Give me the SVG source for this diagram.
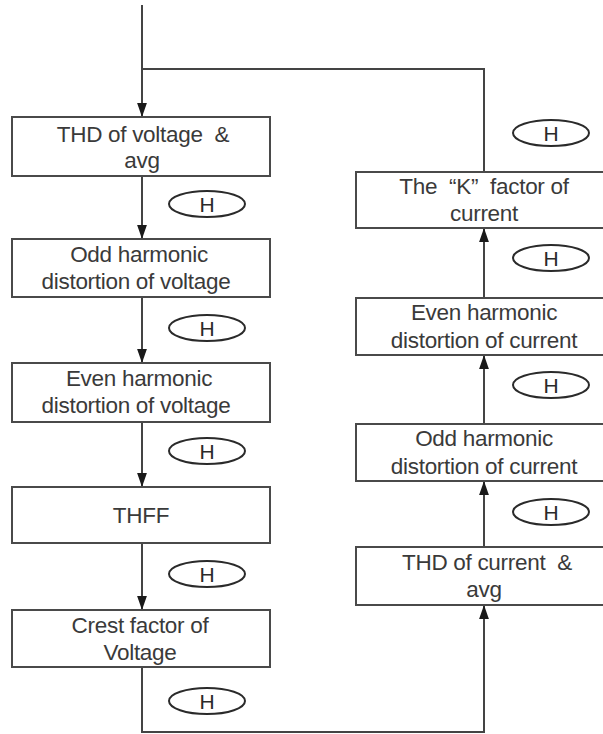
<svg xmlns="http://www.w3.org/2000/svg" width="603" height="734" viewBox="0 0 603 734">
<style>
.box{fill:#fff;stroke:#4a4a4a;stroke-width:2}
.t{font-family:"Liberation Sans",Arial,sans-serif;font-size:22.5px;fill:#3a3a3a;text-anchor:middle;letter-spacing:-0.3px}
.h{font-family:"Liberation Sans",Arial,sans-serif;font-size:21px;fill:#2a2a2a;text-anchor:middle}
.el{fill:#fff;stroke:#2a2a2a;stroke-width:2}
.c{fill:none;stroke:#444;stroke-width:2}
</style>
<defs>
<marker id="arr" markerUnits="userSpaceOnUse" markerWidth="14" markerHeight="20" refX="20" refY="7" orient="auto" viewBox="0 0 20 14">
<path d="M0,0 L20,7 L0,14 Z" fill="#1a1a1a"/>
</marker>
</defs>
<rect width="603" height="734" fill="#fff"/>
<g id="connectors">
<path class="c" d="M142 5 V117" marker-end="url(#arr)"/>
<path class="c" d="M484 172 V69 H142"/>
<path class="c" d="M142 176 V239" marker-end="url(#arr)"/>
<path class="c" d="M142 297 V363" marker-end="url(#arr)"/>
<path class="c" d="M142 422 V487" marker-end="url(#arr)"/>
<path class="c" d="M142 543 V610" marker-end="url(#arr)"/>
<path class="c" d="M142 667 V732 H484 V605" marker-end="url(#arr)"/>
<path class="c" d="M484 547 V481" marker-end="url(#arr)"/>
<path class="c" d="M484 424 V355" marker-end="url(#arr)"/>
<path class="c" d="M484 298 V228" marker-end="url(#arr)"/>
</g>
<g id="n1"><rect class="box" x="12" y="117" width="258" height="59"/>
<text class="t" x="143" y="142" xml:space="preserve">THD of voltage  &amp;</text><text class="t" x="142" y="168">avg</text></g>
<g id="n2"><rect class="box" x="12" y="239" width="258" height="58"/>
<text class="t" x="139" y="262">Odd harmonic</text><text class="t" x="136" y="289">distortion of voltage</text></g>
<g id="n3"><rect class="box" x="12" y="363" width="258" height="59"/>
<text class="t" x="139" y="386">Even harmonic</text><text class="t" x="136" y="413">distortion of voltage</text></g>
<g id="n4"><rect class="box" x="12" y="487" width="258" height="56"/>
<text class="t" x="141" y="523">THFF</text></g>
<g id="n5"><rect class="box" x="12" y="610" width="258" height="57"/>
<text class="t" x="140" y="633">Crest factor of</text><text class="t" x="140" y="660">Voltage</text></g>
<g id="n6"><rect class="box" x="356" y="547" width="258" height="58"/>
<text class="t" x="487" y="570" xml:space="preserve">THD of current  &amp;</text><text class="t" x="484" y="597">avg</text></g>
<g id="n7"><rect class="box" x="356" y="424" width="258" height="57"/>
<text class="t" x="484" y="446">Odd harmonic</text><text class="t" x="484" y="474">distortion of current</text></g>
<g id="n8"><rect class="box" x="356" y="298" width="258" height="57"/>
<text class="t" x="484" y="320">Even harmonic</text><text class="t" x="484" y="348">distortion of current</text></g>
<g id="n9"><rect class="box" x="356" y="172" width="258" height="56"/>
<text class="t" x="484" y="194" xml:space="preserve">The  “K”  factor of</text><text class="t" x="484" y="221">current</text></g>
<g id="h1"><ellipse class="el" cx="207" cy="204" rx="38" ry="13"/><text class="h" x="207" y="212">H</text></g>
<g id="h2"><ellipse class="el" cx="207" cy="328" rx="38" ry="13"/><text class="h" x="207" y="336">H</text></g>
<g id="h3"><ellipse class="el" cx="207" cy="451" rx="38" ry="13"/><text class="h" x="207" y="459">H</text></g>
<g id="h4"><ellipse class="el" cx="207" cy="574" rx="38" ry="13"/><text class="h" x="207" y="582">H</text></g>
<g id="h5"><ellipse class="el" cx="207" cy="701" rx="38" ry="13"/><text class="h" x="207" y="709">H</text></g>
<g id="h6"><ellipse class="el" cx="551" cy="133" rx="38" ry="13"/><text class="h" x="551" y="141">H</text></g>
<g id="h7"><ellipse class="el" cx="551" cy="258" rx="38" ry="13"/><text class="h" x="551" y="266">H</text></g>
<g id="h8"><ellipse class="el" cx="551" cy="385" rx="38" ry="13"/><text class="h" x="551" y="393">H</text></g>
<g id="h9"><ellipse class="el" cx="551" cy="512" rx="38" ry="13"/><text class="h" x="551" y="520">H</text></g>
</svg>
